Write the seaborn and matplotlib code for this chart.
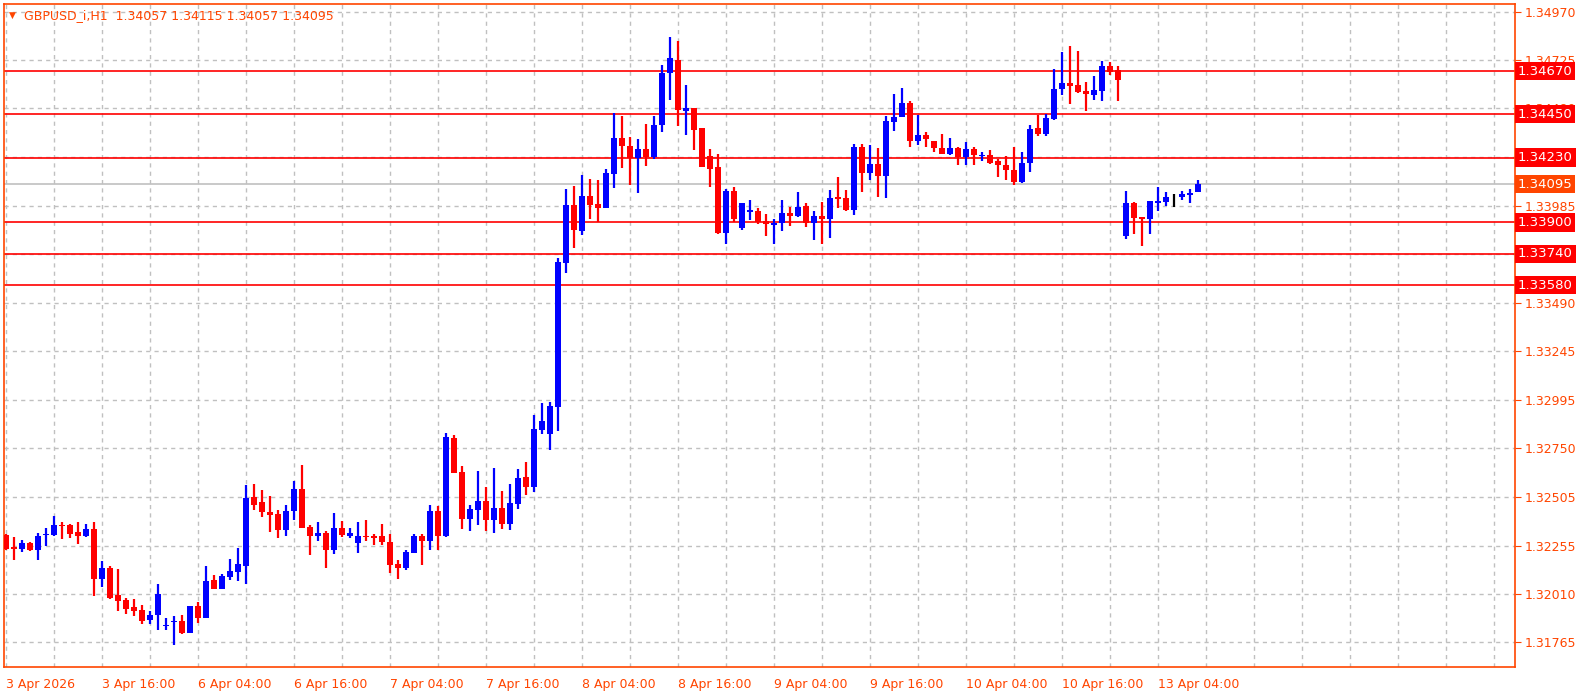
import numpy as np
import matplotlib
matplotlib.use("Agg")
import matplotlib.pyplot as plt
import seaborn as sns

opens = [1.32309,1.32248,1.32238,1.32269,1.32233,1.32309,1.32309,1.32360,1.32360,1.32325,
         1.32304,1.32340,1.32086,1.32142,1.32004,1.31979,1.31943,1.31928,1.31877,1.31902,
         1.31847,1.31867,1.31872,1.31811,1.31948,1.31887,1.32081,1.32035,1.32096,1.32121,
         1.32152,1.32503,1.32477,1.32426,1.32416,1.32335,1.32431,1.32543,1.32350,1.32304,
         1.32320,1.32233,1.32345,1.32304,1.32269,1.32304,1.32304,1.32304,1.32274,1.32162,
         1.32142,1.32218,1.32304,1.32279,1.32431,1.32304,1.32803,1.32630,1.32391,1.32436,
         1.32482,1.32386,1.32447,1.32365,1.32467,1.32604,1.32554,1.32844,1.32823,1.32961,
         1.33693,1.33988,1.33856,1.34034,1.33993,1.33973,1.34146,1.34329,1.34288,1.34227,
         1.34273,1.34232,1.34395,1.34660,1.34726,1.34466,1.34482,1.34380,1.34237,1.34181,
         1.33846,1.34059,1.33871,1.33953,1.33958,1.33907,1.33886,1.33897,1.33947,1.33932,
         1.33983,1.33897,1.33932,1.33917,1.34029,1.34024,1.33963,1.34283,1.34151,1.34197,
         1.34136,1.34410,1.34436,1.34507,1.34314,1.34344,1.34314,1.34278,1.34248,1.34278,
         1.34232,1.34273,1.34237,1.34243,1.34212,1.34192,1.34166,1.34105,1.34202,1.34380,
         1.34349,1.34426,1.34578,1.34609,1.34599,1.34568,1.34548,1.34568,1.34695,1.34675,
         1.33830,1.33998,1.33927,1.33917,1.34001,1.34003,1.34029,1.34029,1.34039,1.34057]
highs = [1.32315,1.32299,1.32284,1.32274,1.32320,1.32345,1.32406,1.32376,1.32365,1.32376,
         1.32365,1.32376,1.32177,1.32152,1.32137,1.31989,1.31984,1.31953,1.31923,1.32060,
         1.31887,1.31897,1.31902,1.31948,1.31969,1.32152,1.32106,1.32111,1.32187,1.32243,
         1.32564,1.32569,1.32538,1.32508,1.32437,1.32462,1.32584,1.32665,1.32360,1.32376,
         1.32330,1.32421,1.32381,1.32345,1.32376,1.32386,1.32315,1.32365,1.32315,1.32182,
         1.32233,1.32315,1.32315,1.32462,1.32457,1.32828,1.32818,1.32660,1.32462,1.32635,
         1.32554,1.32650,1.32533,1.32569,1.32645,1.32681,1.32920,1.32981,1.32986,1.33719,
         1.34070,1.34085,1.34141,1.34120,1.34115,1.34171,1.34456,1.34441,1.34334,1.34324,
         1.34400,1.34441,1.34700,1.34843,1.34822,1.34599,1.34482,1.34380,1.34273,1.34248,
         1.34070,1.34080,1.33998,1.34014,1.33973,1.33942,1.33917,1.34014,1.33978,1.34054,
         1.33998,1.33958,1.34003,1.34064,1.34131,1.34065,1.34298,1.34298,1.34293,1.34278,
         1.34441,1.34553,1.34583,1.34517,1.34446,1.34360,1.34288,1.34349,1.34329,1.34283,
         1.34309,1.34283,1.34258,1.34268,1.34222,1.34238,1.34283,1.34258,1.34395,1.34446,
         1.34451,1.34680,1.34766,1.34797,1.34771,1.34614,1.34644,1.34721,1.34716,1.34695,
         1.34060,1.34003,1.33927,1.34009,1.34080,1.34054,1.34044,1.34060,1.34070,1.34115]
lows =  [1.32233,1.32182,1.32223,1.32228,1.32182,1.32253,1.32304,1.32289,1.32294,1.32264,
         1.32299,1.31999,1.32045,1.31984,1.31923,1.31908,1.31897,1.31857,1.31857,1.31826,
         1.31826,1.31750,1.31806,1.31811,1.31862,1.31887,1.32035,1.32035,1.32081,1.32075,
         1.32060,1.32437,1.32401,1.32325,1.32294,1.32304,1.32386,1.32345,1.32208,1.32279,
         1.32142,1.32213,1.32299,1.32294,1.32218,1.32279,1.32259,1.32259,1.32116,1.32086,
         1.32131,1.32233,1.32157,1.32233,1.32233,1.32299,1.32625,1.32340,1.32330,1.32361,
         1.32330,1.32320,1.32340,1.32335,1.32442,1.32513,1.32528,1.32823,1.32742,1.32838,
         1.33642,1.33769,1.33836,1.33917,1.33902,1.33973,1.34075,1.34176,1.34090,1.34049,
         1.34187,1.34222,1.34360,1.34522,1.34390,1.34344,1.34268,1.34181,1.34080,1.33841,
         1.33790,1.33902,1.33861,1.33912,1.33892,1.33830,1.33790,1.33856,1.33881,1.33927,
         1.33876,1.33810,1.33790,1.33820,1.33973,1.33958,1.33937,1.34054,1.34115,1.34029,
         1.34024,1.34365,1.34436,1.34283,1.34293,1.34283,1.34258,1.34248,1.34243,1.34192,
         1.34192,1.34192,1.34212,1.34197,1.34131,1.34115,1.34090,1.34100,1.34156,1.34339,
         1.34339,1.34421,1.34548,1.34502,1.34558,1.34466,1.34522,1.34517,1.34649,1.34517,
         1.33815,1.33840,1.33780,1.33840,1.33958,1.33983,1.33978,1.34014,1.33998,1.34057]
closes =[1.32238,1.32238,1.32269,1.32233,1.32304,1.32315,1.32360,1.32355,1.32315,1.32304,
         1.32340,1.32086,1.32142,1.31989,1.31974,1.31933,1.31923,1.31872,1.31902,1.32009,
         1.31852,1.31870,1.31811,1.31948,1.31887,1.32075,1.32035,1.32101,1.32126,1.32162,
         1.32498,1.32462,1.32426,1.32411,1.32335,1.32431,1.32543,1.32345,1.32304,1.32320,
         1.32233,1.32345,1.32309,1.32320,1.32304,1.32299,1.32294,1.32274,1.32157,1.32142,
         1.32223,1.32304,1.32279,1.32431,1.32304,1.32808,1.32625,1.32391,1.32442,1.32482,
         1.32386,1.32447,1.32365,1.32472,1.32599,1.32554,1.32849,1.32889,1.32966,1.33698,
         1.33988,1.33861,1.34034,1.33988,1.33973,1.34151,1.34329,1.34288,1.34227,1.34273,
         1.34232,1.34395,1.34660,1.34736,1.34471,1.34482,1.34370,1.34181,1.34171,1.33846,
         1.34059,1.33917,1.33998,1.33963,1.33902,1.33892,1.33897,1.33947,1.33932,1.33978,
         1.33897,1.33932,1.33917,1.34024,1.34019,1.33963,1.34283,1.34151,1.34197,1.34136,
         1.34415,1.34436,1.34507,1.34314,1.34344,1.34324,1.34278,1.34248,1.34278,1.34232,
         1.34273,1.34243,1.34243,1.34202,1.34192,1.34166,1.34105,1.34202,1.34375,1.34349,
         1.34431,1.34578,1.34609,1.34594,1.34563,1.34553,1.34573,1.34695,1.34665,1.34624,
         1.33998,1.33922,1.33917,1.34009,1.34009,1.34029,1.34029,1.34044,1.34049,1.34095]

level_lines = [1.34670, 1.34450, 1.34230, 1.33900, 1.33740, 1.33580]
current_price = 1.34095
ytick_vals = [1.34970, 1.34725, 1.34480, 1.33985, 1.33490, 1.33245, 1.32995,
              1.32750, 1.32505, 1.32255, 1.32010, 1.31765]
grid_y = [1.34970, 1.34725, 1.34480, 1.34235, 1.33985, 1.33740, 1.33490, 1.33245,
          1.32995, 1.32750, 1.32505, 1.32255, 1.32010, 1.31765]
xtick_labels = ["3 Apr 2026", "3 Apr 16:00", "6 Apr 04:00", "6 Apr 16:00", "7 Apr 04:00",
                "7 Apr 16:00", "8 Apr 04:00", "8 Apr 16:00", "9 Apr 04:00", "9 Apr 16:00",
                "10 Apr 04:00", "10 Apr 16:00", "13 Apr 04:00"]
title = "GBPUSD_i,H1  1.34057 1.34115 1.34057 1.34095"

sns.set_style("white")
plt.rcParams['font.family'] = ['DejaVu Sans']
ORANGE = "#FF4500"

W, H = 1581, 693
fig = plt.figure(figsize=(W/100, H/100), dpi=100)
ax = fig.add_axes([4/W, 1-667/H, (1515-4)/W, (667-4)/H])

n = len(opens)
idx = np.arange(n)
o = np.array(opens); c = np.array(closes); h = np.array(highs); l = np.array(lows)
cols = np.where(c > o, "#0000FF", np.where(c < o, "#FF0000", "#000000"))

for y in grid_y:
    ax.axhline(y, color="#C0C0C0", lw=1, ls=(0, (3, 3)), zorder=0)
for xv in range(0, 190, 6):
    ax.axvline(xv, color="#C0C0C0", lw=1, ls=(0, (3, 3)), zorder=0)

for y in level_lines:
    ax.axhline(y, color="#FF0000", lw=1.2, zorder=1)
ax.axhline(current_price, color="#C0C0C0", lw=1.2, zorder=1)

ax.vlines(idx, l, h, colors=cols, lw=1.6, zorder=2)
body_bot = np.minimum(o, c)
body_h = np.maximum(np.abs(c - o), 0.00002)
ax.bar(idx, body_h, bottom=body_bot, width=0.7, color=cols, zorder=3, linewidth=0)

ax.set_xlim(-0.25, 188.6)
ax.set_ylim(1.31638, 1.35011)
ax.yaxis.tick_right()
ax.set_yticks(ytick_vals)
ax.set_yticklabels([f"{v:.5f}" for v in ytick_vals], color=ORANGE, fontsize=9)
ax.tick_params(axis="y", direction="out", length=4, color=ORANGE, pad=3)
ax.set_xticks(np.arange(0, 12*len(xtick_labels), 12))
ax.set_xticklabels(xtick_labels, color=ORANGE, fontsize=9, ha="left")
ax.tick_params(axis="x", direction="out", length=4, color=ORANGE, pad=4)
for s in ax.spines.values():
    s.set_color(ORANGE); s.set_linewidth(1.2)

def tag(y, text, fc):
    ax.text(1.002, y, text, transform=ax.get_yaxis_transform(), ha="left", va="center",
            color="white", fontsize=9.5, zorder=5,
            bbox=dict(boxstyle="square,pad=0.2", fc=fc, ec="none"))
for y in level_lines:
    tag(y, f"{y:.5f}", "#FF0000")
tag(current_price, f"{current_price:.5f}", ORANGE)

ax.text(0.003, 0.99, "\u25BC", transform=ax.transAxes, color=ORANGE, fontsize=6.5, va="top")
ax.text(0.013, 0.993, title, transform=ax.transAxes, color=ORANGE, fontsize=9, va="top")

fig.savefig("out.png", dpi=100)
